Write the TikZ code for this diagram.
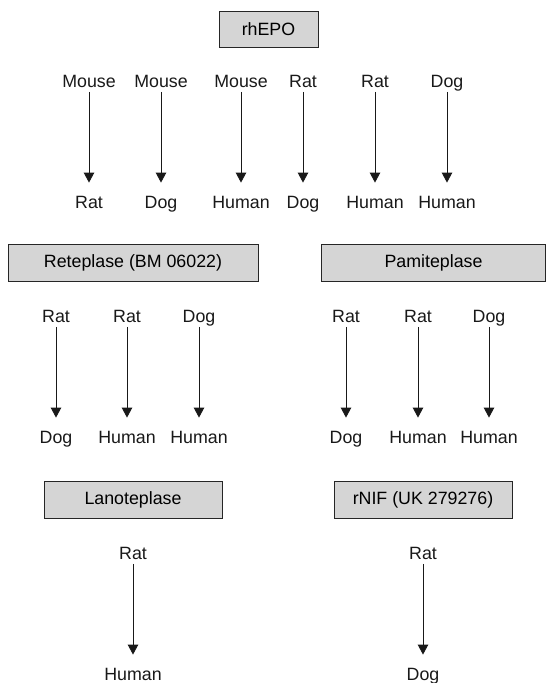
\documentclass[tikz,border=0pt]{standalone}
\usepackage{fontspec}
\setmainfont{Liberation Sans}
\usetikzlibrary{arrows.meta}
\definecolor{boxgray}{HTML}{D5D5D5}
\tikzset{
  hdr/.style={draw=black!85, line width=0.9pt, fill=boxgray, inner sep=0pt, font=\fontsize{17.8}{20}\selectfont},
  sp/.style={inner sep=0pt, text height=12.8pt, text depth=0pt, font=\fontsize{17.8}{20}\selectfont, text=black!90},
  arr/.style={-{Triangle[width=10.5pt,length=10pt]}, line width=0.9pt, black!90, shorten <=4.3pt, shorten >=12.8pt}
}
\begin{document}
\begin{tikzpicture}[x=1pt,y=-1pt]
\useasboundingbox (0,0) rectangle (546,683);
% headers
\node[hdr, minimum width=99pt, minimum height=36pt] (h1) at (268.5,29) {rhEPO};
\node[hdr, minimum width=250pt, minimum height=37pt] (h2) at (133,262.5) {Reteplase (BM 06022)};
\node[hdr, minimum width=224pt, minimum height=37pt] (h3) at (433.5,262.5) {Pamiteplase};
\node[hdr, minimum width=178pt, minimum height=37pt] (h4) at (133,499.5) {Lanoteplase};
\node[hdr, minimum width=178pt, minimum height=37pt] (h5) at (423,499.5) {rNIF (UK 279276)};
% row 1
\node[sp] (a1) at (89,81) {Mouse};   \node[sp] (b1) at (89,202) {Rat};
\node[sp] (a2) at (161,81) {Mouse};  \node[sp] (b2) at (161,202) {Dog};
\node[sp] (a3) at (241,81) {Mouse};  \node[sp] (b3) at (241,202) {Human};
\node[sp] (a4) at (303,81) {Rat};    \node[sp] (b4) at (303,202) {Dog};
\node[sp] (a5) at (375,81) {Rat};    \node[sp] (b5) at (375,202) {Human};
\node[sp] (a6) at (447,81) {Dog};    \node[sp] (b6) at (447,202) {Human};
% row 2
\node[sp] (c1) at (56,316) {Rat};    \node[sp] (d1) at (56,437) {Dog};
\node[sp] (c2) at (127,316) {Rat};   \node[sp] (d2) at (127,437) {Human};
\node[sp] (c3) at (199,316) {Dog};   \node[sp] (d3) at (199,437) {Human};
\node[sp] (c4) at (346,316) {Rat};   \node[sp] (d4) at (346,437) {Dog};
\node[sp] (c5) at (418,316) {Rat};   \node[sp] (d5) at (418,437) {Human};
\node[sp] (c6) at (489,316) {Dog};   \node[sp] (d6) at (489,437) {Human};
% row 3
\node[sp] (e1) at (133,553) {Rat};   \node[sp] (f1) at (133,674) {Human};
\node[sp] (e2) at (423,553) {Rat};   \node[sp] (f2) at (423,674) {Dog};
% arrows
\foreach \i in {1,...,6} {
  \draw[arr] (a\i.south) -- (b\i.north);
  \draw[arr] (c\i.south) -- (d\i.north);
}
\foreach \i in {1,2} {
  \draw[arr] (e\i.south) -- (f\i.north);
}
\end{tikzpicture}
\end{document}
